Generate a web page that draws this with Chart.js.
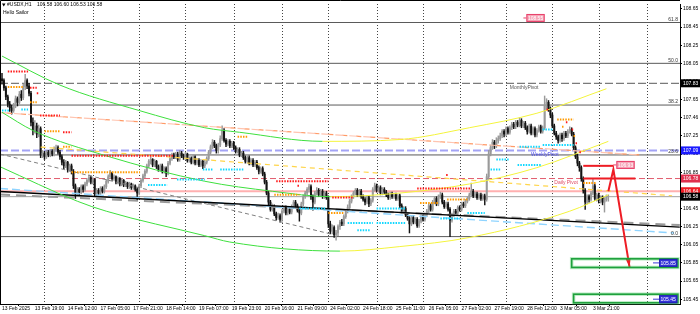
<!DOCTYPE html>
<html>
<head>
<meta charset="utf-8">
<script src="https://cdn.jsdelivr.net/npm/chart.js@4.4.1/dist/chart.umd.min.js"></script>
<style>
html, body { margin: 0; padding: 0; background: #fff; }
#wrap { width: 700px; height: 314px; }
</style>
</head>
<body>
<div id="wrap"><canvas id="chart" width="700" height="314"></canvas></div>
<script>
// ---- data ----
var titleText = '#USDX,H1';
var titleOHLC = ['106.58', '106.60', '106.53', '106.58'];
var subTitle = 'Hello Sailor';

var xLabels = ['13 Feb 2025', '13 Feb 19:00', '14 Feb 12:00', '17 Feb 05:00', '17 Feb 21:00', '18 Feb 14:00',
    '19 Feb 07:00', '19 Feb 23:00', '20 Feb 16:00', '21 Feb 09:00', '24 Feb 02:00', '24 Feb 18:00',
    '25 Feb 11:00', '26 Feb 05:00', '27 Feb 02:00', '27 Feb 19:00', '28 Feb 12:00', '3 Mar 05:00', '3 Mar 21:00'];
var xLabelStep = 17;
var daySeparators = [22, 47, 71, 95, 120, 145, 169, 194, 218, 237, 261, 285, 309, 334];

var yTicks = [108.65, 108.45, 108.25, 108.05, 107.85, 107.65, 107.45, 107.25, 107.05, 106.85, 106.65, 106.45, 106.25, 106.05, 105.85, 105.65, 105.45];
var yTickLabels = ['108.65', '108.45', '108.25', '108.05', '107.85', '107.65', '107.46', '107.25', '107.05', '106.85', '106.65', '106.45', '106.25', '106.05', '105.85', '105.65', '105.45'];

var firstOpen = 107.88;
var closes = [
    107.86,107.78,107.68,107.60,107.56,107.53,107.58,107.66,107.62,107.71,
    107.67,107.79,107.86,107.80,107.72,107.40,107.31,107.36,107.27,107.33,
    107.04,107.06,107.02,107.07,107.04,107.08,107.05,107.10,107.12,107.07,
    107.02,106.96,106.92,106.96,106.88,106.92,106.86,106.70,106.62,106.66,
    106.63,106.69,106.66,106.72,106.76,106.79,106.74,106.77,106.61,106.65,
    106.62,106.67,106.64,106.69,106.75,106.80,106.84,106.78,106.80,106.74,
    106.78,106.72,106.76,106.71,106.73,106.69,106.72,106.68,106.70,106.66,
    106.62,106.70,106.76,106.81,106.86,106.92,106.97,106.99,106.93,106.97,
    106.91,106.88,106.92,106.86,106.89,106.84,106.95,107.00,107.04,107.02,
    107.05,106.99,107.06,107.03,107.01,107.05,106.98,107.00,106.96,107.02,
    106.95,106.98,106.93,106.97,106.92,106.96,107.00,107.07,107.13,107.18,
    107.14,107.09,107.15,107.22,107.31,107.20,107.16,107.19,107.14,107.17,
    107.12,107.08,107.10,107.04,107.06,107.01,106.97,107.01,106.95,106.98,
    106.93,106.96,106.90,106.86,106.89,106.83,106.74,106.62,106.52,106.44,
    106.47,106.39,106.35,106.37,106.33,106.42,106.46,106.40,106.44,106.41,
    106.47,106.52,106.48,106.43,106.40,106.50,106.58,106.62,106.66,106.69,
    106.58,106.52,106.62,106.65,106.60,106.64,106.58,106.62,106.57,106.28,
    106.20,106.24,106.16,106.18,106.25,106.30,106.28,106.36,106.42,106.46,
    106.53,106.58,106.62,106.65,106.60,106.64,106.58,106.55,106.52,106.57,
    106.50,106.54,106.66,106.70,106.65,106.68,106.62,106.66,106.63,106.60,
    106.57,106.61,106.58,106.60,106.56,106.59,106.48,106.42,106.45,106.38,
    106.34,106.28,106.35,106.30,106.33,106.26,106.31,106.36,106.33,106.38,
    106.42,106.48,106.44,106.52,106.56,106.50,106.58,106.60,106.52,106.47,
    106.50,106.44,106.32,106.38,106.42,106.40,106.46,106.44,106.50,106.48,
    106.53,106.56,106.60,106.64,106.59,106.61,106.57,106.60,106.56,106.59,
    106.55,106.80,107.05,107.12,107.18,107.14,107.20,107.22,107.25,107.30,
    107.27,107.33,107.29,107.34,107.38,107.35,107.40,107.37,107.42,107.36,
    107.39,107.34,107.30,107.36,107.28,107.33,107.26,107.31,107.35,107.30,
    107.34,107.58,107.62,107.55,107.48,107.36,107.28,107.24,107.20,107.26,
    107.22,107.28,107.25,107.30,107.32,107.27,107.12,107.02,106.95,106.90,
    106.78,106.65,106.52,106.58,106.55,106.62,106.70,106.56,106.60,106.54,
    106.57,106.52,106.55,106.58,106.58
];
var highs = [
    107.94,107.88,107.80,107.70,107.63,107.59,107.61,107.69,107.68,107.74,
    107.75,107.82,107.93,107.88,107.83,107.74,107.45,107.42,107.39,107.37,
    107.35,107.09,107.08,107.09,107.09,107.10,107.10,107.13,107.15,107.14,
    107.09,107.04,106.99,106.98,106.97,106.94,106.94,106.88,106.72,106.68,
    106.68,106.71,106.71,106.74,106.78,106.82,106.81,106.79,106.78,106.67,
    106.67,106.69,106.69,106.71,106.77,106.82,106.87,106.85,106.82,106.81,
    106.80,106.79,106.78,106.77,106.75,106.74,106.74,106.73,106.72,106.71,
    106.68,106.72,106.78,106.83,106.88,106.94,106.99,107.02,107.00,106.99,
    106.98,106.93,106.94,106.94,106.91,106.91,106.97,107.02,107.06,107.06,
    107.07,107.07,107.09,107.08,107.05,107.07,107.06,107.02,107.02,107.04,
    107.03,107.00,107.00,106.99,106.98,106.98,107.02,107.09,107.15,107.21,
    107.20,107.16,107.17,107.25,107.36,107.33,107.22,107.21,107.21,107.19,
    107.19,107.14,107.12,107.12,107.08,107.08,107.03,107.03,107.03,107.00,
    107.00,106.98,106.98,106.92,106.91,106.91,106.85,106.76,106.64,106.54,
    106.50,106.49,106.41,106.40,106.39,106.44,106.48,106.48,106.46,106.46,
    106.49,106.54,106.54,106.50,106.45,106.52,106.60,106.64,106.68,106.72,
    106.71,106.60,106.64,106.68,106.67,106.66,106.66,106.64,106.64,106.59,
    106.31,106.27,106.26,106.21,106.27,106.32,106.33,106.38,106.44,106.49,
    106.55,106.60,106.64,106.67,106.67,106.66,106.66,106.60,106.57,106.59,
    106.59,106.56,106.68,106.73,106.72,106.70,106.70,106.68,106.68,106.65,
    106.62,106.63,106.63,106.62,106.62,106.61,106.61,106.50,106.47,106.47,
    106.40,106.36,106.37,106.37,106.35,106.35,106.33,106.38,106.38,106.40,
    106.44,106.50,106.50,106.54,106.58,106.58,106.60,106.63,106.62,106.54,
    106.52,106.52,106.46,106.40,106.44,106.44,106.48,106.48,106.52,106.52,
    106.55,106.58,106.62,106.73,106.66,106.63,106.63,106.62,106.62,106.61,
    106.61,106.83,107.09,107.15,107.21,107.20,107.23,107.25,107.28,107.32,
    107.32,107.35,107.35,107.36,107.40,107.40,107.42,107.42,107.45,107.44,
    107.41,107.41,107.36,107.38,107.38,107.35,107.35,107.33,107.37,107.37,
    107.36,107.69,107.66,107.64,107.57,107.50,107.38,107.30,107.26,107.28,
    107.28,107.30,107.30,107.32,107.35,107.34,107.29,107.14,107.05,106.97,
    106.92,106.80,106.67,106.60,106.60,106.64,106.77,106.72,106.62,106.62,
    106.59,106.59,106.57,106.60,106.60
];
var lows = [
    107.82,107.75,107.65,107.57,107.52,107.49,107.51,107.56,107.58,107.60,
    107.64,107.65,107.76,107.77,107.69,107.36,107.26,107.28,107.23,107.24,
    107.01,107.01,106.99,107.00,107.02,107.02,107.03,107.03,107.08,107.05,
    106.99,106.93,106.89,106.90,106.85,106.86,106.83,106.67,106.56,106.60,
    106.60,106.61,106.63,106.64,106.70,106.74,106.72,106.72,106.59,106.58,
    106.60,106.60,106.62,106.62,106.67,106.73,106.78,106.76,106.76,106.72,
    106.72,106.70,106.70,106.69,106.69,106.67,106.67,106.66,106.66,106.64,
    106.54,106.60,106.68,106.74,106.79,106.84,106.90,106.94,106.91,106.91,
    106.89,106.86,106.86,106.84,106.84,106.80,106.82,106.93,106.98,107.00,
    107.00,106.97,106.97,107.01,106.99,106.99,106.96,106.96,106.94,106.94,
    106.93,106.93,106.91,106.91,106.89,106.90,106.94,106.98,107.05,107.11,
    107.12,107.06,107.06,107.13,107.20,107.18,107.13,107.14,107.12,107.12,
    107.10,107.06,107.06,107.02,107.02,106.99,106.95,106.95,106.93,106.93,
    106.91,106.91,106.88,106.83,106.84,106.81,106.72,106.60,106.49,106.42,
    106.42,106.37,106.32,106.33,106.30,106.31,106.40,106.38,106.38,106.39,
    106.39,106.45,106.46,106.41,106.31,106.38,106.48,106.56,106.60,106.63,
    106.55,106.43,106.50,106.60,106.58,106.58,106.56,106.56,106.55,106.24,
    106.17,106.17,106.13,106.10,106.15,106.22,106.26,106.26,106.34,106.40,
    106.44,106.51,106.56,106.60,106.58,106.58,106.56,106.53,106.49,106.50,
    106.47,106.48,106.52,106.64,106.63,106.63,106.60,106.60,106.61,106.58,
    106.55,106.55,106.56,106.56,106.54,106.54,106.46,106.40,106.40,106.36,
    106.32,106.18,106.26,106.28,106.28,106.24,106.24,106.29,106.31,106.31,
    106.36,106.40,106.42,106.42,106.50,106.48,106.48,106.56,106.50,106.45,
    106.45,106.42,106.14,106.30,106.36,106.38,106.38,106.42,106.42,106.46,
    106.46,106.51,106.54,106.58,106.57,106.57,106.55,106.55,106.54,106.54,
    106.49,106.53,106.77,107.03,107.10,107.11,107.12,107.17,107.20,107.23,
    107.24,107.25,107.27,107.27,107.32,107.33,107.33,107.35,107.35,107.34,
    107.34,107.32,107.27,107.28,107.26,107.26,107.24,107.24,107.29,107.28,
    107.28,107.32,107.54,107.52,107.45,107.34,107.26,107.21,107.17,107.18,
    107.19,107.20,107.23,107.23,107.28,107.25,107.10,107.00,106.92,106.86,
    106.75,106.62,106.44,106.50,106.52,106.53,106.60,106.54,106.53,106.51,
    106.51,106.49,106.41,106.53,106.53
];

// fibonacci levels and pivots
var fibPrices = [108.50, 108.05, 107.59, 107.04, 106.14];
var fibNames = ['61.8', '50.0', '38.2', '23.6', '0.0'];
var pivotPrices = [107.83, 107.09, 106.78];
var pivotNames = ['MonthlyPivot', 'WeeklyPivot', 'Daily Pivot'];
var pivotLabelAt = [263, 274, 286];
var resistancePrice = 106.64;
var bidPrice = 106.58;

// regression channel (bar index, price)
var upperCurve = [[0,108.13],[30,107.81],[71,107.53],[105,107.34],[123,107.29],[166,107.19],[206,107.21],[242,107.34],[277,107.50],[313,107.77]];
var middleCurve = [[0,107.51],[16,107.31],[54,107.03],[105,106.75],[140,106.64],[170,106.58],[206,106.62],[242,106.72],[277,106.90],[314,107.19]];
var lowerCurve = [[-1,106.91],[39,106.53],[54,106.42],[105,106.15],[118,106.08],[175,105.98],[206,106.03],[242,106.13],[294,106.42],[314,106.60]];

// trend lines (bar index, price)
var trendBlack = [[-1,106.637],[351,106.245]];
var trendGray = [[-1,106.604],[351,106.267]];
var trendBlue = [[-1,106.67],[348,106.18]];
var trendThin = [[-1,107.05],[170,106.17]];
var trendSalmon = [[-1,107.507],[330,107.04]];
var trendYellow = [[20,107.127],[347,106.59]];

// dotted support / resistance steps: [from bar, to bar, price]
var redDots = [[3,13.5,107.96],[14.5,18,107.78],[19.7,30,107.475],[31.6,36,107.29],[36,88.6,107.03],
    [142,169,106.75],[171,182,106.57],[215,243,106.67],[18,19,107.72],[282,283,107.54],[292,293,107.40],
    [295,296,107.32],[297,298,107.17],[299,300,107.07],[153,154,106.70],[230,231,106.82]];
var orangeDots = [[3,11,107.79],[14.5,18,107.62],[22,30,107.30],[31.6,36,107.13],[36,71.5,106.85],
    [122,127,107.24],[141,154,106.60],[169,177,106.40],[216.5,226,106.51],[230.5,241,106.55],
    [287.5,296,107.43],[301,308,106.73],[290,291,107.35],[296,297,107.25]];
var cyanDots = [[0,4,107.53],[10,13.5,107.54],[75.6,85.5,106.71],[90.6,105,106.77],[104,109,106.88],
    [113,125,106.88],[154,168,106.45],[179,192,106.29],[184,190.6,106.21],[194,209,106.45],[194,209,106.29],
    [227,237,106.34],[241,250,106.40],[253,258,106.88],[256,263,106.99],[267,279,106.93],[268,279,107.13],
    [280,285.5,107.32],[280,296,107.15]];

// projection
var arrowPath = [[314,106.64],[316.6,106.88],[325,105.80]];
var redLevels = [[301,316.6,106.92],[301,328,106.78]];
var priceTags = [[270,108.55,'108.55'],[316.6,106.93,'106.93']];
var targetBoxes = [[295,350,105.895,105.80,'105.85'],[296,350,105.505,105.41,'105.45']];
var axisMarks = [[107.83,'107.83'],[107.09,'107.09'],[106.78,'106.78'],[106.64,'106.64'],[106.58,'106.58']];

// ---- build chart ----
var xMin = -1.036, xMax = 351.1, yMin = 105.397, yMax = 108.704;
var GREEN = '#3ee03e', YELLOW = '#f4f43c';

var opens = closes.map(function(c, i) { return i === 0 ? firstOpen : closes[i - 1]; });
var wickData = closes.map(function(c, i) { return {x: i, y: [lows[i], highs[i]]}; });
var bodyData = closes.map(function(c, i) { return {x: i, y: [opens[i], c]}; });
var candleColors = closes.map(function(c, i) { return c >= opens[i] ? '#9a9a9a' : '#141414'; });

function pts(arr) { return arr.map(function(p) { return {x: p[0], y: p[1]}; }); }
function level(p) { return [{x: xMin, y: p}, {x: xMax, y: p}]; }
function segs(list) {
    var out = [];
    list.forEach(function(s) { out.push({x: s[0], y: s[2]}, {x: s[1], y: s[2]}, {x: s[1], y: null}); });
    return out;
}
function line(data, color, width, dash, order, more) {
    var ds = {type: 'line', data: data, borderColor: color, borderWidth: width, borderDash: dash || [],
        pointRadius: 0, fill: false, tension: 0, order: order, spanGaps: false, borderCapStyle: 'butt'};
    for (var k in more) ds[k] = more[k];
    return ds;
}
var curveOpts = {cubicInterpolationMode: 'monotone',
    segment: {borderColor: function(c) { return c.p1.parsed.y > c.p0.parsed.y ? YELLOW : GREEN; }}};

var datasets = [];
fibPrices.forEach(function(p) { datasets.push(line(level(p), '#5a5a5a', 1, [], 30)); });
datasets.push(line(level(pivotPrices[0]), '#7a7a7a', 1.3, [8, 3], 29));
datasets.push(line(level(pivotPrices[1]), '#a3a3f5', 2, [8, 3], 29));
datasets.push(line(level(pivotPrices[2]), '#e25c6e', 1, [6, 3], 29));
datasets.push(line(level(resistancePrice), '#ffb0b0', 2, [], 29));
datasets.push(line(level(bidPrice), '#a0a0a0', 1, [], 29));

datasets.push({type: 'bar', data: wickData, backgroundColor: candleColors, barThickness: 0.8, grouped: false, order: 20});
datasets.push({type: 'bar', data: bodyData, backgroundColor: candleColors, barThickness: 1.3, grouped: false, order: 19});

datasets.push(line(pts(trendSalmon), '#ffc4b0', 1.2, [8, 6], 10));
datasets.push(line(pts(trendSalmon), '#ff9a66', 1.2, [5, 9], 10, {borderDashOffset: 7}));
datasets.push(line(pts(trendThin), '#808080', 1, [4, 3], 10));
datasets.push(line(pts(trendYellow), '#ffd54a', 1.2, [5, 4], 10));
datasets.push(line(pts(trendBlue), '#8fd4ff', 1.4, [8, 4], 9));
datasets.push(line(pts(trendGray), '#9a9a9a', 2, [10, 6], 9));
datasets.push(line(pts(trendBlack), '#000', 1.3, [], 8));
datasets.push(line(pts(upperCurve), GREEN, 1, [], 7, curveOpts));
datasets.push(line(pts(middleCurve), GREEN, 1, [], 7, curveOpts));
datasets.push(line(pts(lowerCurve), GREEN, 1, [], 7, curveOpts));

datasets.push(line(segs(redDots), '#ff1a1a', 2, [1.5, 1.2], 5));
datasets.push(line(segs(orangeDots), '#ff9a00', 2, [1.5, 1.2], 5));
datasets.push(line(segs(cyanDots), '#10d8ff', 2, [1.5, 1.2], 5));

redLevels.forEach(function(s) { datasets.push(line([{x: s[0], y: s[2]}, {x: s[1], y: s[2]}], '#ee1c24', 2, [], 3)); });
datasets.push(line(pts(arrowPath), '#ee1c24', 2, [], 2));

function px(chart, v) { return chart.scales.x.getPixelForValue(v); }
function py(chart, v) { return chart.scales.y.getPixelForValue(v); }

function tag(ctx, x, y, text, fill, border, color) {
    ctx.font = '5px "Liberation Sans", Arial, sans-serif';
    var w = ctx.measureText(text).width + 3;
    ctx.fillStyle = fill;
    ctx.fillRect(x, y - 4, w, 8);
    if (border) { ctx.strokeStyle = border; ctx.lineWidth = 1; ctx.strokeRect(x + 0.5, y - 3.5, w - 1, 7); }
    ctx.fillStyle = color;
    ctx.textAlign = 'left'; ctx.textBaseline = 'middle';
    ctx.fillText(text, x + 1.5, y + 0.3);
}

var overlay = {
    id: 'overlay',
    beforeDatasetsDraw: function(chart) {
        var ctx = chart.ctx, a = chart.chartArea;
        ctx.save();
        ctx.strokeStyle = '#444'; ctx.lineWidth = 1; ctx.setLineDash([1, 2]);
        daySeparators.forEach(function(d) {
            var x = Math.round(px(chart, d)) + 0.5;
            ctx.beginPath(); ctx.moveTo(x, a.top); ctx.lineTo(x, a.bottom); ctx.stroke();
        });
        ctx.restore();
    },
    afterDatasetsDraw: function(chart) {
        var ctx = chart.ctx, a = chart.chartArea;
        ctx.save();
        // arrow head
        var n = arrowPath.length;
        var x1 = px(chart, arrowPath[n - 2][0]), y1 = py(chart, arrowPath[n - 2][1]);
        var x2 = px(chart, arrowPath[n - 1][0]), y2 = py(chart, arrowPath[n - 1][1]);
        var ang = Math.atan2(y2 - y1, x2 - x1);
        ctx.fillStyle = '#ee1c24';
        ctx.beginPath();
        ctx.moveTo(x2, y2);
        ctx.lineTo(x2 - 9 * Math.cos(ang) + 2.5 * Math.sin(ang), y2 - 9 * Math.sin(ang) - 2.5 * Math.cos(ang));
        ctx.lineTo(x2 - 9 * Math.cos(ang) - 2.5 * Math.sin(ang), y2 - 9 * Math.sin(ang) + 2.5 * Math.cos(ang));
        ctx.closePath(); ctx.fill();

        // target zones
        targetBoxes.forEach(function(b) {
            var l = px(chart, b[0]), r = Math.min(px(chart, b[1]), a.right - 1);
            var t = py(chart, b[2]), btm = py(chart, b[3]);
            ctx.strokeStyle = 'rgba(60,200,90,0.35)'; ctx.lineWidth = 3.5;
            ctx.strokeRect(l, t, r - l, btm - t);
            ctx.strokeStyle = '#1ea03c'; ctx.lineWidth = 1.6;
            ctx.strokeRect(l, t, r - l, btm - t);
            var yc = py(chart, parseFloat(b[4]));
            ctx.strokeStyle = '#3a3ad8'; ctx.lineWidth = 1;
            ctx.beginPath(); ctx.moveTo(a.right - 27, yc); ctx.lineTo(a.right - 21, yc); ctx.stroke();
            tag(ctx, a.right - 21, yc, b[4], '#3434d8', '#2020b0', '#ffffff');
        });

        // price tags
        priceTags.forEach(function(t) {
            var x = px(chart, t[0]), y = py(chart, t[1]);
            ctx.strokeStyle = '#e8406a'; ctx.lineWidth = 1;
            ctx.beginPath(); ctx.moveTo(x, y); ctx.lineTo(x + 3, y); ctx.stroke();
            tag(ctx, x + 3, y, t[2], '#f6a6b8', '#e8406a', '#ffffff');
        });

        // level captions
        ctx.font = '5px "Liberation Sans", Arial, sans-serif';
        ctx.textAlign = 'right'; ctx.textBaseline = 'bottom'; ctx.fillStyle = '#333';
        fibPrices.forEach(function(p, i) { ctx.fillText(fibNames[i], a.right - 2, py(chart, p) - 0.5); });
        ctx.textAlign = 'left'; ctx.textBaseline = 'top';
        var pivotColors = ['#555555', '#4646f0', '#e04a64'];
        pivotPrices.forEach(function(p, i) {
            ctx.fillStyle = pivotColors[i];
            ctx.fillText(pivotNames[i], px(chart, pivotLabelAt[i]), py(chart, p) + 1.5);
        });
        ctx.restore();
    },
    afterDraw: function(chart) {
        var ctx = chart.ctx, a = chart.chartArea;
        ctx.save();
        // frame
        ctx.strokeStyle = '#000'; ctx.lineWidth = 1;
        ctx.beginPath(); ctx.moveTo(0.5, a.bottom); ctx.lineTo(0.5, 0.5); ctx.lineTo(a.right, 0.5); ctx.stroke();
        // right axis markers
        var markColors = ['#000000', '#1a1aff', '#e0304e', '#ee1c24', '#000000'];
        axisMarks.forEach(function(m, i) {
            var y = py(chart, m[0]);
            ctx.fillStyle = markColors[i];
            ctx.fillRect(a.right + 1, y - 4, 19, 8);
            ctx.fillStyle = '#fff';
            ctx.font = '5px "Liberation Sans", Arial, sans-serif';
            ctx.textAlign = 'left'; ctx.textBaseline = 'middle';
            ctx.fillText(m[1], a.right + 3, y + 0.3);
        });
        // title
        ctx.fillStyle = '#000';
        ctx.font = '5px "Liberation Sans", Arial, sans-serif';
        ctx.textAlign = 'left'; ctx.textBaseline = 'middle';
        ctx.beginPath(); ctx.moveTo(2, 3.5); ctx.lineTo(5.5, 3.5); ctx.lineTo(3.75, 6.5); ctx.closePath(); ctx.fill();
        ctx.fillText(titleText, 7, 5);
        ctx.fillText(titleOHLC.join(' '), 37, 5);
        ctx.fillText(subTitle, 3, 12.5);
        ctx.restore();
    }
};

new Chart(document.getElementById('chart').getContext('2d'), {
    type: 'bar',
    data: {datasets: datasets},
    options: {
        responsive: false,
        animation: false,
        events: [],
        layout: {padding: 0},
        plugins: {legend: {display: false}, tooltip: {enabled: false}, title: {display: false}},
        scales: {
            x: {
                type: 'linear', min: xMin, max: xMax, offset: false,
                afterBuildTicks: function(s) { s.ticks = xLabels.map(function(l, i) { return {value: i * xLabelStep}; }); },
                afterFit: function(s) { s.height = 10; },
                ticks: {align: 'start', maxRotation: 0, autoSkip: false, padding: 0, color: '#000',
                    font: {size: 5, family: '"Liberation Sans", Arial, sans-serif'},
                    callback: function(v, i) { return xLabels[i]; }},
                grid: {display: true, drawOnChartArea: false, drawTicks: true, tickLength: 2, color: '#000'},
                border: {display: true, color: '#000'}
            },
            y: {
                type: 'linear', position: 'right', min: yMin, max: yMax,
                afterBuildTicks: function(s) { s.ticks = yTicks.map(function(v) { return {value: v}; }); },
                afterFit: function(s) { s.width = 20; },
                ticks: {padding: 1, color: '#000', autoSkip: false,
                    font: {size: 5, family: '"Liberation Sans", Arial, sans-serif'},
                    callback: function(v, i) { return yTickLabels[i]; }},
                grid: {display: true, drawOnChartArea: false, drawTicks: true, tickLength: 2, color: '#000'},
                border: {display: true, color: '#000'}
            }
        }
    },
    plugins: [overlay]
});
</script>
</body>
</html>
